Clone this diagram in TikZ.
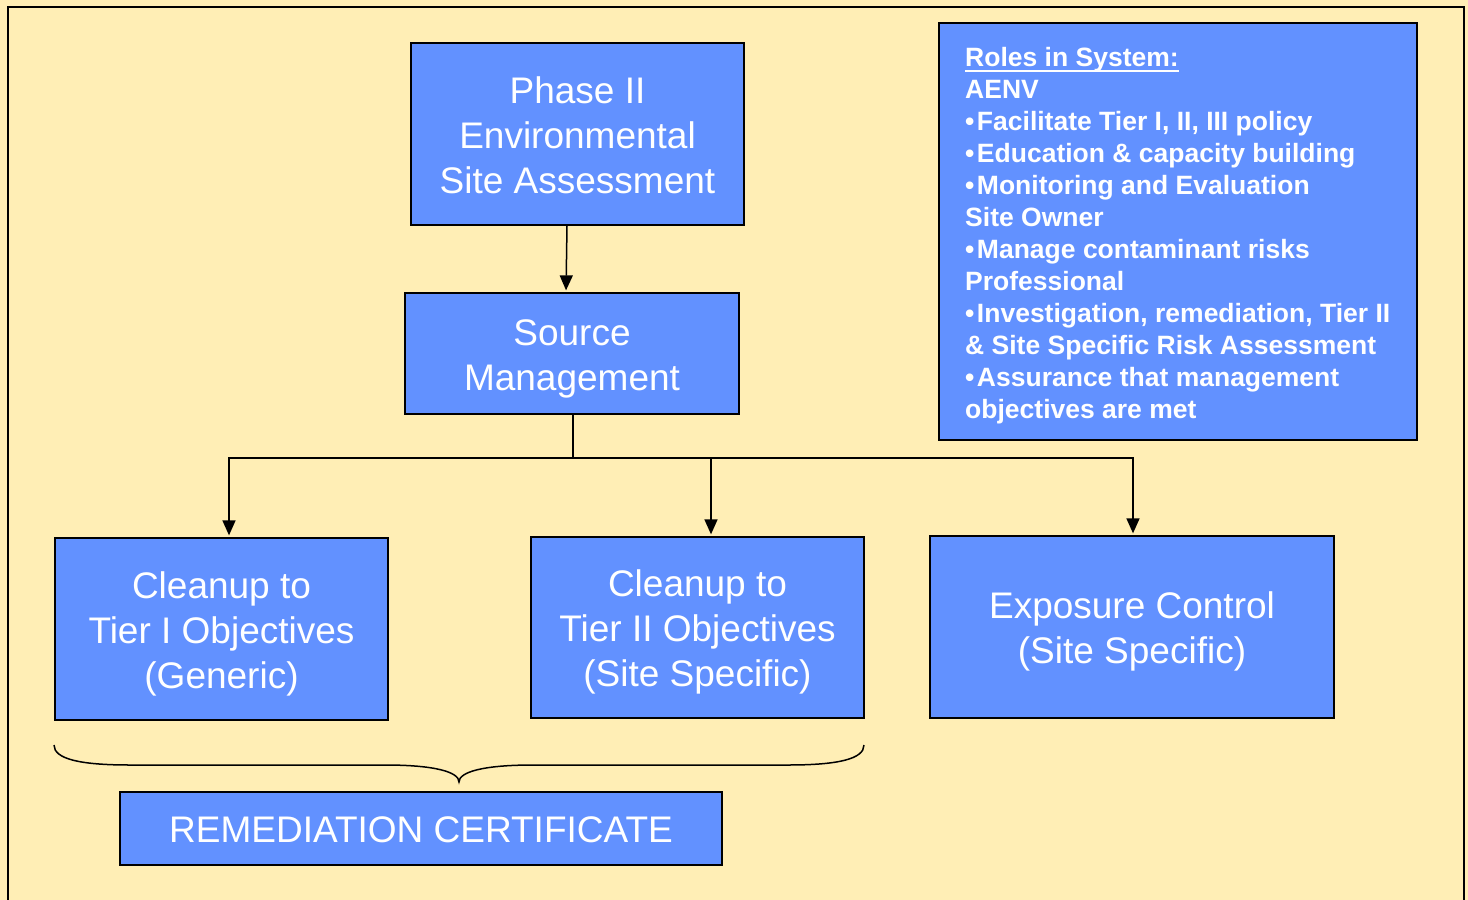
\documentclass[tikz,border=0pt]{standalone}
\usepackage{fontspec}
\setmainfont{Liberation Sans}
\usetikzlibrary{arrows.meta}
\definecolor{bg}{RGB}{255,238,181}
\definecolor{boxblue}{RGB}{98,145,255}
\newcommand\ls{\rule[-8.5pt]{0pt}{45pt}}
\newcommand\rs{\rule[-7pt]{0pt}{25pt}}
\newcommand\bul{•\kern2.5pt}
\newcommand\myul[1]{\setbox0\hbox{#1}\rlap{\rule[-5pt]{\wd0}{2pt}}\box0}
\begin{document}
\begin{tikzpicture}[x=1pt,y=-1pt,
  bluebox/.style={draw=black,line width=1.3pt,fill=boxblue,text=white,inner sep=0pt,
    align=center,font={\fontsize{37}{45}\selectfont}},
  link/.style={line width=1.5pt,draw=black},
  arr/.style={link,-{Triangle[length=15pt,width=13pt]},shorten >=2pt}]
\useasboundingbox (0,0) rectangle (1468,900);
\fill[bg] (0,0) rectangle (1468,900);
\draw[line width=2pt] (8,912) -- (8,7) -- (1464,7) -- (1464,912);

\node[bluebox,minimum width=333pt,minimum height=182pt] (ph) at (577.5,134)
  {\ls Phase II\\\ls Environmental\\\ls Site Assessment};
\node[bluebox,minimum width=334pt,minimum height=121pt] (src) at (572,353.5)
  {\ls Source\\\ls Management};
\node[bluebox,minimum width=333pt,minimum height=182pt] (t1) at (221.5,629)
  {\ls Cleanup to\\\ls Tier I Objectives\\\ls (Generic)};
\node[bluebox,minimum width=333pt,minimum height=181pt] (t2) at (697.5,627.5)
  {\ls Cleanup to\\\ls Tier II Objectives\\\ls (Site Specific)};
\node[bluebox,minimum width=404pt,minimum height=182pt] (ex) at (1132,627)
  {\ls Exposure Control\\\ls (Site Specific)};
\node[bluebox,minimum width=602pt,minimum height=73pt] (rc) at (421,828.5)
  {\ls REMEDIATION CERTIFICATE};

\node[draw=black,line width=1.6pt,fill=boxblue,minimum width=478pt,minimum height=417pt,inner sep=0pt] (roles) at (1178,231.5) {};
\node[text=white,inner sep=0pt,anchor=north west,align=left,
  font={\fontsize{26.5}{32}\selectfont\bfseries}] (rtext) at (965,47.5)
  {\rs\myul{Roles in System:}\\
   \rs AENV\\
   \rs \bul Facilitate Tier I, II, III policy\\
   \rs \bul Education \& capacity building\\
   \rs \bul Monitoring and Evaluation\\
   \rs Site Owner\\
   \rs \bul Manage contaminant risks\\
   \rs Professional\\
   \rs \bul Investigation, remediation, Tier II\\
   \rs \& Site Specific Risk Assessment\\
   \rs \bul Assurance that management\\
   \rs objectives are met};

\coordinate (j) at (573,458);
\draw[arr] ([xshift=-10.5pt]ph.south) -- ([xshift=-6pt]src.north);
\draw[link] ([xshift=1pt]src.south) -- (j);
\draw[arr] (j) -| ([xshift=7.5pt]t1.north);
\draw[arr] (j) -| ([xshift=13.5pt]t2.north);
\draw[arr] (j) -| ([xshift=1pt]ex.north);

\draw[line width=1.5pt] (54,745) .. controls (54,759) and (80,765) .. (130,765)
  -- (385,765) .. controls (435,765) and (459,772) .. (459,782)
  .. controls (459,772) and (483,765) .. (533,765)
  -- (788,765) .. controls (838,765) and (864,759) .. (864,745);
\end{tikzpicture}
\end{document}
